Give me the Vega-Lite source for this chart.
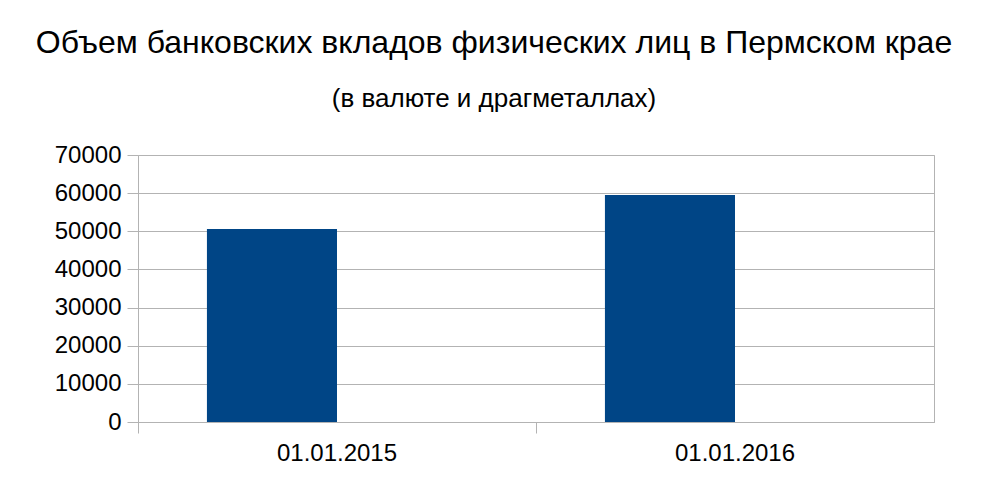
{
  "$schema": "https://vega.github.io/schema/vega-lite/v6.json",
  "width": 796,
  "height": 267,
  "autosize": {"type": "none"},
  "padding": {"left": 138, "top": 155, "right": 59, "bottom": 79},
  "background": "white",
  "title": {
    "text": "Объем банковских вкладов физических лиц в Пермском крае",
    "subtitle": "(в валюте и драгметаллах)",
    "anchor": "middle",
    "dx": -42,
    "font": "Liberation Sans",
    "fontSize": 32,
    "fontWeight": "normal",
    "color": "black",
    "subtitleFont": "Liberation Sans",
    "subtitleFontSize": 26,
    "subtitleColor": "black",
    "subtitlePadding": 26,
    "offset": 30
  },
  "data": {
    "values": [
      {"date": "01.01.2015", "series": "A", "value": 50600},
      {"date": "01.01.2016", "series": "A", "value": 59500}
    ]
  },
  "mark": {"type": "bar", "color": "#004586"},
  "encoding": {
    "x": {
      "field": "date",
      "type": "nominal",
      "scale": {"paddingInner": 0, "paddingOuter": 0},
      "axis": {
        "title": null,
        "bandPosition": 0,
        "labelAngle": 0,
        "labelFont": "Liberation Sans",
        "labelFontSize": 24,
        "labelColor": "black",
        "labelPadding": 8,
        "tickSize": 11,
        "tickColor": "#b3b3b3",
        "domainColor": "#b3b3b3",
        "grid": false
      }
    },
    "xOffset": {
      "field": "series",
      "scale": {"domain": ["A", "B"], "paddingInner": 0, "paddingOuter": 0.53}
    },
    "y": {
      "field": "value",
      "type": "quantitative",
      "scale": {"domain": [0, 70000], "nice": false},
      "axis": {
        "title": null,
        "values": [0, 10000, 20000, 30000, 40000, 50000, 60000, 70000],
        "format": "d",
        "labelFont": "Liberation Sans",
        "labelFontSize": 24,
        "labelColor": "black",
        "labelPadding": 6,
        "tickSize": 11,
        "tickColor": "#b3b3b3",
        "gridColor": "#b3b3b3",
        "domain": false
      }
    }
  },
  "config": {"view": {"stroke": "#b3b3b3"}}
}
